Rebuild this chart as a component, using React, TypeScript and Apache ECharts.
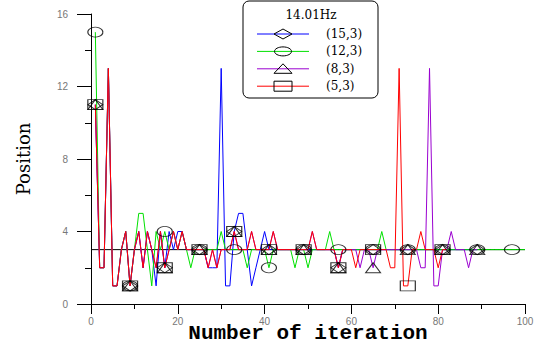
import React, { useEffect, useRef } from "react";
import * as echarts from "echarts";

// ---- data (iteration number starts at 1) ----
const seriesNames = ["(15,3)", "(12,3)", "(8,3)", "(5,3)"];
const seriesColors = ["#0000ff", "#00e000", "#9a00d0", "#ff0000"];
const markerSymbols = ["diamond", "circle", "triangle", "rect"];
const legendTitle = "14.01Hz";

const blueVals = [
  11, 2, 2, 13, 1, 1, 3, 4, 1, 3,
  4, 2, 4, 3, 1, 4, 2, 4, 3, 4,
  4, 3, 3, 3, 3, 3, 2, 2, 2, 13,
  1, 1, 4, 5, 5, 3, 1, 2, 3, 4,
  3, 3, 3, 3, 3, 3, 3, 3, 3, 3,
  3, 3, 3, 3, 3, 3, 2, 3, 3, 3,
  3, 3, 3, 3, 3, 3, 3, 3, 3, 3,
  3, 3, 3, 3, 3, 3, 3, 3, 3, 3,
  3, 3, 3, 3, 3, 3, 3, 3, 3,
];
const greenVals = [
  15, 2, 2, 13, 1, 1, 3, 4, 1, 3,
  5, 5, 3, 1, 4, 3, 4, 3, 4, 3,
  4, 3, 2, 3, 3, 3, 3, 3, 3, 4,
  3, 3, 3, 3, 3, 2, 3, 3, 3, 3,
  2, 3, 3, 3, 3, 3, 2, 3, 3, 2,
  3, 3, 3, 3, 4, 3, 3, 3, 3, 3,
  3, 3, 3, 3, 3, 3, 4, 3, 3, 3,
  3, 3, 3, 3, 3, 3, 3, 3, 3, 3,
  3, 3, 3, 3, 3, 3, 3, 3, 3, 3,
  3, 3, 3, 3, 3, 3, 3, 3, 3, 3,
];
const purpleVals = [
  11, 2, 2, 13, 1, 1, 3, 4, 1, 3,
  4, 2, 4, 3, 2, 4, 2, 3, 4, 3,
  4, 3, 3, 3, 3, 3, 2, 3, 2, 3,
  3, 3, 4, 3, 3, 3, 4, 3, 3, 3,
  3, 4, 3, 3, 3, 3, 3, 3, 3, 3,
  4, 3, 3, 3, 3, 3, 2, 3, 3, 3,
  3, 2, 3, 3, 2, 3, 3, 3, 3, 3,
  3, 3, 3, 3, 3, 2, 2, 13, 1, 1,
  3, 3, 4, 3, 3, 3, 2, 3, 3,
];
const redVals = [
  11, 2, 2, 13, 1, 1, 3, 4, 1, 3,
  4, 2, 4, 3, 2, 4, 2, 3, 4, 3,
  4, 3, 3, 3, 3, 3, 2, 3, 2, 3,
  3, 3, 4, 3, 3, 3, 4, 3, 3, 3,
  3, 4, 3, 3, 3, 3, 3, 3, 3, 3,
  4, 3, 3, 3, 3, 3, 2, 3, 3, 3,
  2, 3, 3, 3, 3, 3, 3, 3, 2, 2,
  13, 1, 1, 3, 3, 4, 3, 3, 3, 2,
  3, 3,
];
const allVals = [blueVals, greenVals, purpleVals, redVals];
const markerEvery = 8;
const refLevel = 3;
const refRange = [0, 100];
const xTicks = { min: 0, max: 100, interval: 20 };
const yTicks = { min: 0, max: 16, interval: 4 };

export default function App() {
  const ref = useRef<HTMLDivElement>(null);
  useEffect(() => {
    if (!ref.current) return;
    const chart = echarts.init(ref.current, undefined, { renderer: "svg" });
    const toPairs = (vals: number[]) => vals.map((v, i) => [i + 1, v]);
    const lineSeries = allVals.map((vals, k) => ({
      type: "line",
      name: seriesNames[k],
      data: toPairs(vals),
      symbol: "none",
      lineStyle: { color: seriesColors[k], width: 1 },
      itemStyle: { color: seriesColors[k] },
      z: 3 + k,
    }));
    const markerSeries = allVals.map((vals, k) => ({
      type: "scatter",
      name: seriesNames[k] + " marker",
      data: toPairs(vals).filter((_, i) => i % markerEvery === 0),
      symbol: markerSymbols[k],
      symbolSize: [15, 10],
      itemStyle: { color: "rgba(0,0,0,0)", borderColor: "#000", borderWidth: 1 },
      z: 10,
    }));

    // legend drawn with graphic elements
    const lx = 243, ly = 1;
    const legendChildren: any[] = [
      { type: "rect", shape: { x: lx, y: ly, width: 135, height: 97, r: 6 }, style: { fill: "#fff", stroke: "#000", lineWidth: 1 } },
      { type: "text", x: lx + 68, y: ly + 14, style: { text: legendTitle, font: "12px 'DejaVu Serif'", fill: "#000", align: "center", verticalAlign: "middle" } },
    ];
    seriesNames.forEach((nm, k) => {
      const cy = ly + 33 + k * 17.4;
      const cx = lx + 40;
      legendChildren.push({ type: "line", shape: { x1: lx + 14, y1: cy, x2: lx + 66, y2: cy }, style: { stroke: seriesColors[k], lineWidth: 1 } });
      let shape: any;
      const sty = { fill: "none", stroke: "#000", lineWidth: 1 };
      if (markerSymbols[k] === "diamond") shape = { type: "polygon", shape: { points: [[cx - 9, cy], [cx, cy - 5], [cx + 9, cy], [cx, cy + 5]] }, style: sty };
      else if (markerSymbols[k] === "circle") shape = { type: "ellipse", shape: { cx, cy, rx: 8.5, ry: 4.5 }, style: sty };
      else if (markerSymbols[k] === "triangle") shape = { type: "polygon", shape: { points: [[cx - 9, cy + 4.5], [cx, cy - 5], [cx + 9, cy + 4.5]] }, style: sty };
      else shape = { type: "rect", shape: { x: cx - 9, y: cy - 5, width: 18, height: 10 }, style: sty };
      legendChildren.push(shape);
      legendChildren.push({ type: "text", x: lx + 83, y: cy, style: { text: nm, font: "12px 'DejaVu Serif'", fill: "#000", verticalAlign: "middle" } });
    });

    chart.setOption({
      animation: false,
      grid: { left: 91, right: 15, top: 14, bottom: 41, outerBoundsMode: "none", containLabel: false },
      xAxis: {
        type: "value",
        ...xTicks,
        name: "Number of iteration",
        nameLocation: "middle",
        nameGap: 19,
        nameMoveOverlap: false,
        nameTextStyle: { fontFamily: "Liberation Mono", fontWeight: "bold", fontSize: 21, color: "#000" },
        axisLine: { lineStyle: { color: "#000", width: 1 } },
        axisTick: { length: 10, lineStyle: { color: "#000" } },
        minorTick: { show: true, splitNumber: 2, length: 5, lineStyle: { color: "#000" } },
        splitLine: { show: false },
        axisLabel: { color: "#777", fontSize: 10, margin: 12, fontFamily: "Liberation Sans" },
      },
      yAxis: {
        type: "value",
        ...yTicks,
        name: "Position",
        nameLocation: "middle",
        nameGap: 59,
        nameMoveOverlap: false,
        nameTextStyle: { fontFamily: "DejaVu Serif", fontSize: 18, color: "#000" },
        axisLine: { show: true, lineStyle: { color: "#000", width: 1 } },
        axisTick: { show: true, length: 14, lineStyle: { color: "#000" } },
        minorTick: { show: true, splitNumber: 2, length: 6, lineStyle: { color: "#000" } },
        splitLine: { show: false },
        axisLabel: { color: "#777", fontSize: 10, margin: 23, fontFamily: "Liberation Sans" },
      },
      series: [
        {
          type: "line",
          name: "reference",
          data: [[refRange[0], refLevel], [refRange[1], refLevel]],
          symbol: "none",
          lineStyle: { color: "#000", width: 1 },
          z: 2,
        },
        ...lineSeries,
        ...markerSeries,
      ],
      graphic: [{ type: "group", children: legendChildren, z: 100 }],
    });
    return () => chart.dispose();
  }, []);
  return <div ref={ref} style={{ position: "absolute", left: 0, top: 0, width: 540, height: 345 }} />;
}
